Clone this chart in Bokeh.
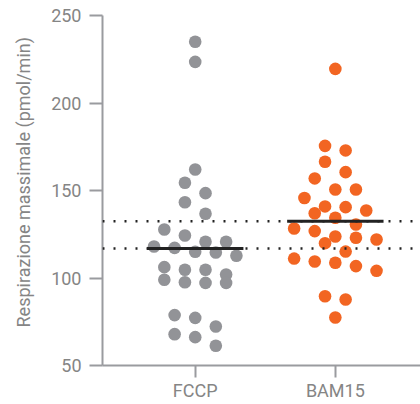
from bokeh.plotting import figure
from bokeh.models import FixedTicker, Span, Title
from bokeh.embed import file_html
from bokeh.resources import INLINE

# ---------------- data ----------------
categories = ["FCCP", "BAM15"]
fccp_values = [235, 223.5, 162, 154.4, 148.5, 143.3, 136.7, 127.7, 124.3, 120.7,
               120.7, 118, 117.2, 115, 114.6, 112.7, 106.2, 104.7, 104.7, 102,
               99, 97.6, 97.2, 97.2, 78.8, 77.2, 72.3, 67.9, 66.2, 61.3]
bam15_values = [219.5, 175.5, 172.9, 166.4, 160.5, 156.9, 150.6, 150.6, 145.7, 140.9,
                140.5, 138.6, 137, 134.4, 130.6, 128.3, 126.8, 123.7, 123, 122,
                119.9, 115.1, 111.1, 109.4, 108.7, 106.8, 104.1, 89.6, 87.7, 77.4]
y_ticks = [50, 100, 150, 200, 250]
y_label = "Respirazione massimale (pmol/min)"

# ---------------- style ----------------
W, H = 420, 404
LEFT, TOP, BOTTOM, RIGHT = 100, 15, 39, 0
PX_PER_CAT = 141.0
FIRST_CAT_PX = 93.3
FONT = "Roboto"
TEXT_COLOR = "#858585"
AXIS_COLOR = "#9a9b9f"
COLORS = ["#929397", "#f26522"]
DOT_SIZE = 12.6
ROW_HEIGHT = 7.15          # in data units: points closer than this share a row
HALF_SPREAD = 0.294        # widest row half width (category units)
MEAN_HALF = 0.344          # half length of the mean bar

frame_w = W - LEFT - RIGHT
x_start = 1 - FIRST_CAT_PX / PX_PER_CAT
x_end = x_start + frame_w / PX_PER_CAT


def swarm_offsets(vals, row_height, half_width):
    order = sorted(range(len(vals)), key=lambda i: -vals[i])
    rows = []
    for i in order:
        if rows and vals[rows[-1][0]] - vals[i] <= row_height:
            rows[-1].append(i)
        else:
            rows.append([i])
    widest = max(len(r) for r in rows)
    step = 2 * half_width / (widest - 1) if widest > 1 else 0.0
    offs = [0.0] * len(vals)
    for r in rows:
        n = len(r)
        for j, i in enumerate(r):
            offs[i] = (j - (n - 1) / 2) * step
    return offs


p = figure(width=W, height=H, x_range=(x_start, x_end), y_range=(y_ticks[0], y_ticks[-1]),
           output_backend="svg", toolbar_location=None,
           min_border_left=LEFT, min_border_right=RIGHT,
           min_border_top=TOP, min_border_bottom=BOTTOM)
p.outline_line_color = None
p.grid.visible = False
p.background_fill_color = "white"
p.border_fill_color = "white"

yax = p.yaxis[0]
yax.ticker = FixedTicker(ticks=y_ticks)
yax.axis_line_color = AXIS_COLOR
yax.axis_line_width = 2
yax.major_tick_line_color = AXIS_COLOR
yax.major_tick_line_width = 2
yax.major_tick_out = 13
yax.major_tick_in = 0
yax.minor_tick_line_color = None
yax.major_label_text_font = FONT
yax.major_label_text_font_size = "18px"
yax.major_label_text_color = TEXT_COLOR
yax.major_label_standoff = 8

# y title as a side title, so it can be shifted along the axis like the reference
ytitle = Title(text=y_label, align="left", offset=38, vertical_align="top",
               standoff=25, text_font=FONT, text_font_size="18px",
               text_font_style="normal", text_color=TEXT_COLOR)
p.add_layout(ytitle, "left")

xax = p.xaxis[0]
xax.ticker = FixedTicker(ticks=[1, 2])
xax.major_label_overrides = {1: categories[0], 2: categories[1]}
xax.axis_line_color = AXIS_COLOR
xax.axis_line_width = 2
xax.major_tick_line_color = AXIS_COLOR
xax.major_tick_line_width = 2
xax.major_tick_out = 12
xax.major_tick_in = 0
xax.minor_tick_line_color = None
xax.major_label_text_font = FONT
xax.major_label_text_font_size = "18px"
xax.major_label_text_color = TEXT_COLOR
xax.major_label_standoff = 2

means = []
for k, (vals, col) in enumerate(zip([fccp_values, bam15_values], COLORS), start=1):
    offs = swarm_offsets(vals, ROW_HEIGHT, HALF_SPREAD)
    xs = [k + o for o in offs]
    p.scatter(xs, vals, size=DOT_SIZE, fill_color=col, line_color=None)
    means.append(sum(vals) / len(vals))

for k, m in enumerate(means, start=1):
    p.segment(x0=[k - MEAN_HALF], x1=[k + MEAN_HALF], y0=[m], y1=[m],
              line_color="#222222", line_width=3)
    p.add_layout(Span(location=m, dimension="width", line_color="#222222",
                      line_width=2.5, line_dash="2 9"))

open("out.html", "w").write(file_html(p, INLINE))
